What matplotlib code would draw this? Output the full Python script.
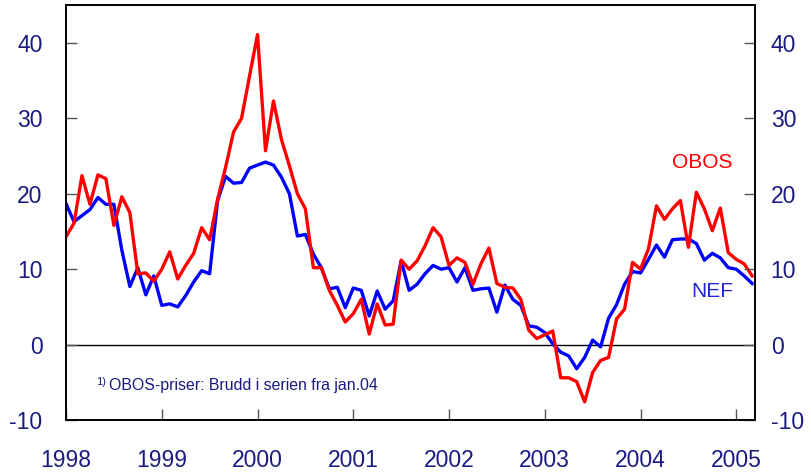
import numpy as np
import matplotlib
matplotlib.use('Agg')
import matplotlib.pyplot as plt

plt.rcParams['font.family'] = ['Liberation Sans', 'DejaVu Sans']
plt.rcParams['axes.unicode_minus'] = False

# monthly growth, per cent, Jan 1998 - Mar 2005
obos = [14.3, 16.1, 22.4, 18.6, 22.5, 22.0, 15.8, 19.6, 17.5, 9.4, 9.5, 8.4,
        10.0, 12.3, 8.7, 10.5, 12.1, 15.5, 13.9, 19.3, 23.5, 28.2, 30.0, 35.6,
        41.1, 25.7, 32.3, 27.2, 23.7, 20.0, 18.0, 10.2, 10.2, 7.2, 5.2, 3.0,
        4.1, 6.0, 1.4, 5.4, 2.6, 2.7, 11.2, 10.0, 11.1, 13.1, 15.5, 14.3,
        10.5, 11.5, 10.9, 8.0, 10.7, 12.8, 8.1, 7.6, 7.5, 6.0, 1.9, 0.8,
        1.3, 1.8, -4.4, -4.4, -4.9, -7.6, -3.7, -2.1, -1.7, 3.4, 4.7, 10.9,
        10.0, 12.7, 18.4, 16.6, 18.0, 19.1, 12.9, 20.2, 18.0, 15.1, 18.1, 12.2,
        11.3, 10.7, 9.1]
nef = [18.7, 16.3, 17.1, 17.9, 19.5, 18.6, 18.6, 12.5, 7.7, 10.2, 6.6, 9.1,
       5.2, 5.4, 5.0, 6.5, 8.3, 9.8, 9.4, 19.1, 22.3, 21.4, 21.5, 23.4,
       23.8, 24.2, 23.8, 22.2, 20.0, 14.4, 14.6, 12.0, 10.2, 7.4, 7.6, 4.9,
       7.5, 7.2, 3.8, 7.1, 4.7, 5.8, 11.1, 7.2, 8.0, 9.4, 10.5, 10.0,
       10.2, 8.3, 10.2, 7.2, 7.4, 7.5, 4.3, 7.9, 6.0, 5.2, 2.5, 2.3,
       1.6, 0.1, -1.0, -1.5, -3.2, -1.7, 0.6, -0.3, 3.5, 5.3, 8.0, 9.7,
       9.5, 11.3, 13.2, 11.6, 13.9, 14.0, 14.0, 13.4, 11.2, 12.1, 11.5, 10.2,
       10.0, 9.1, 8.1]
years = list(range(1998, 2006))
yticks = [-10, 0, 10, 20, 30, 40]

t = 1998 + np.arange(len(obos)) / 12.0
navy = '#1a1a80'

fig = plt.figure(figsize=(8.12, 4.73), dpi=100)
ax = fig.add_axes([0.0813, 0.112, 0.849, 0.877])

ax.axhline(0, color='black', lw=1.0, zorder=1)
ax.plot(t, nef, color='#0000ff', lw=2.4, zorder=3)
ax.plot(t, obos, color='#ff0000', lw=2.4, zorder=4)

ax.set_xlim(1998, 2005.2)
ax.set_ylim(-10, 45)
ax.set_xticks(years)
ax.set_xticklabels([str(y) for y in years])
ax.set_yticks(yticks)

ax.tick_params(axis='x', direction='in', length=8, width=1, color='#555555',
               pad=21, labelsize=16.5, labelcolor=navy)
ax.tick_params(axis='y', direction='in', length=8, width=1, color='#555555',
               pad=17, labelsize=16.5, labelcolor=navy)

# right-hand axis with the same scale
ax2 = ax.twinx()
ax2.set_ylim(ax.get_ylim())
ax2.set_yticks(yticks)
ax2.tick_params(axis='y', direction='in', length=8, width=1, color='#555555',
                pad=11, labelsize=16.5, labelcolor=navy)

for a in (ax, ax2):
    for spine in a.spines.values():
        spine.set_linewidth(1.2)
        spine.set_color('black')

ax.text(2004.646, 24.2, 'OBOS', color='#ff0000', fontsize=15,
        ha='center', va='center')
ax.text(2004.747, 7.0, 'NEF', color='#2222dd', fontsize=15,
        ha='center', va='center')

ax.text(1998.31, -4.9, '1)', color=navy, fontsize=8, ha='left', va='center')
ax.text(1998.45, -5.4, 'OBOS-priser: Brudd i serien fra jan.04', color=navy,
        fontsize=11.4, ha='left', va='center')

fig.savefig('out.png', dpi=100)
